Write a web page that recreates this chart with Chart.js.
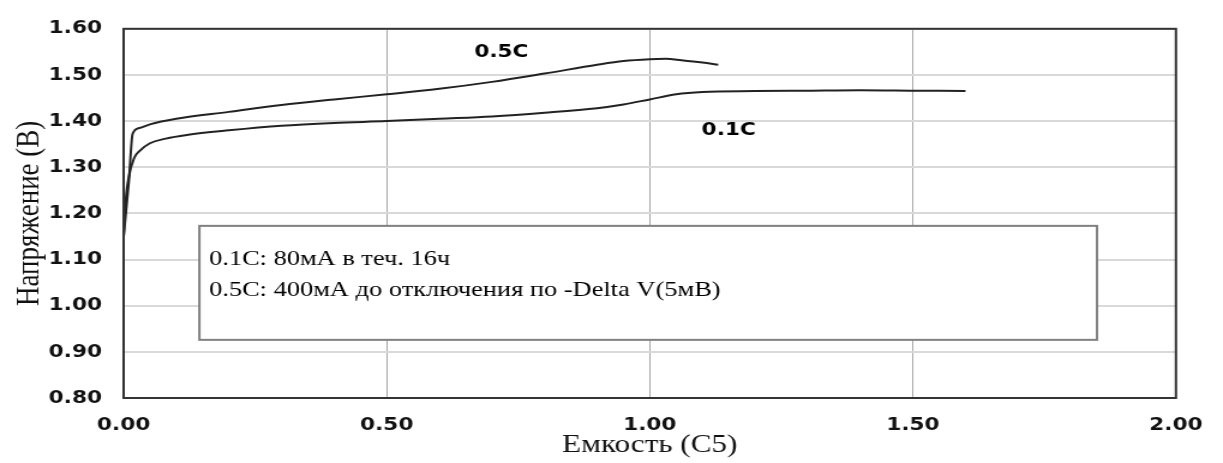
<!DOCTYPE html>
<html>
<head>
<meta charset="utf-8">
<script src="https://cdn.jsdelivr.net/npm/chart.js@4.4.1/dist/chart.umd.min.js"></script>
<style>
  html, body { margin: 0; padding: 0; background: #fff; overflow: hidden; }
  /* the reference is stretched sideways, so the canvas is drawn narrow and widened */
  #chart { display: block; width: 1223px !important; height: 463px !important; }
</style>
</head>
<body>
<canvas id="chart" width="1019" height="463"></canvas>
<script>
// Емкость (C5) / Напряжение (B)
const capacity01 = [0, 0.005, 0.01, 0.02, 0.03, 0.05, 0.08, 0.12, 0.2, 0.3, 0.4, 0.5, 0.6, 0.7, 0.8, 0.9, 0.95, 1.0, 1.05, 1.1, 1.2, 1.3, 1.4, 1.5, 1.6];
const voltage01  = [1.15, 1.24, 1.28, 1.32, 1.335, 1.352, 1.362, 1.37, 1.38, 1.39, 1.396, 1.40, 1.405, 1.41, 1.418, 1.428, 1.436, 1.447, 1.458, 1.463, 1.465, 1.466, 1.467, 1.466, 1.465];

const capacity05 = [0, 0.01, 0.017, 0.03, 0.05, 0.1, 0.2, 0.3, 0.4, 0.5, 0.6, 0.7, 0.8, 0.9, 0.95, 1.0, 1.03, 1.06, 1.1, 1.13];
const voltage05  = [1.15, 1.27, 1.372, 1.385, 1.393, 1.405, 1.42, 1.435, 1.447, 1.458, 1.47, 1.485, 1.503, 1.522, 1.53, 1.534, 1.535, 1.532, 1.527, 1.522];

const noteLines = ["0.1C: 80мА в теч. 16ч", "0.5C: 400мА до отключения по -Delta V(5мВ)"];

const toPoints = (xs, ys) => xs.map((x, i) => ({ x: x, y: ys[i] }));

// frame round the plot, the note box and the curve labels
const extras = {
    id: "extras",
    afterDraw(chart) {
        const ctx = chart.ctx;
        const a = chart.chartArea;
        const xs = chart.scales.x, ys = chart.scales.y;
        ctx.save();
        ctx.strokeStyle = "#333";
        ctx.lineWidth = 2;
        ctx.strokeRect(a.left, a.top, a.right - a.left, a.bottom - a.top);

        // note box
        const bx = xs.getPixelForValue(0.144), bx2 = xs.getPixelForValue(1.85);
        const by = ys.getPixelForValue(1.173), by2 = ys.getPixelForValue(0.926);
        ctx.fillStyle = "#fff";
        ctx.fillRect(bx, by, bx2 - bx, by2 - by);
        ctx.strokeStyle = "#808080";
        ctx.strokeRect(bx, by, bx2 - bx, by2 - by);
        ctx.fillStyle = "#000";
        ctx.font = "22px 'Liberation Serif', serif";
        ctx.textBaseline = "middle";
        ctx.fillText(noteLines[0], bx + 8, 259);
        ctx.fillText(noteLines[1], bx + 8, 290);

        // curve labels
        ctx.font = "bold 18px 'DejaVu Sans', sans-serif";
        ctx.textAlign = "center";
        ctx.fillText("0.5C", xs.getPixelForValue(0.718), ys.getPixelForValue(1.55));
        ctx.fillText("0.1C", xs.getPixelForValue(1.15), ys.getPixelForValue(1.38));
        ctx.restore();
    }
};

new Chart(document.getElementById("chart"), {
    type: "line",
    data: {
        datasets: [
            {
                label: "0.5C",
                data: toPoints(capacity05, voltage05),
                borderColor: "#222",
                borderWidth: 2,
                pointRadius: 0,
                cubicInterpolationMode: "monotone",
                fill: false
            },
            {
                label: "0.1C",
                data: toPoints(capacity01, voltage01),
                borderColor: "#222",
                borderWidth: 2,
                pointRadius: 0,
                cubicInterpolationMode: "monotone",
                fill: false
            }
        ]
    },
    options: {
        responsive: false,
        animation: false,
        devicePixelRatio: 1,
        layout: { padding: { top: 16, right: 36, left: 0, bottom: 0 } },
        plugins: { legend: { display: false }, tooltip: { enabled: false } },
        scales: {
            x: {
                type: "linear",
                min: 0, max: 2,
                afterFit: s => { s.height = 65; },
                grid: { color: "#a6a6a6", lineWidth: 1, drawTicks: false },
                border: { display: false },
                ticks: {
                    stepSize: 0.5,
                    padding: 17,
                    color: "#111",
                    font: { family: "'DejaVu Sans', sans-serif", weight: "bold", size: 18 },
                    callback: v => v.toFixed(2)
                },
                title: {
                    display: true,
                    text: "Емкость (C5)",
                    color: "#111",
                    padding: { top: 0, bottom: 2 },
                    font: { family: "'Liberation Serif', serif", size: 26 }
                }
            },
            y: {
                min: 0.8, max: 1.6,
                afterFit: s => { s.width = 103; },
                grid: { color: "#d9d9d9", lineWidth: 2, drawTicks: false },
                border: { display: false },
                ticks: {
                    stepSize: 0.1,
                    padding: 18,
                    color: "#111",
                    font: { family: "'DejaVu Sans', sans-serif", weight: "bold", size: 18 },
                    callback: v => v.toFixed(2)
                },
                title: {
                    display: true,
                    text: "Напряжение (B)",
                    color: "#111",
                    padding: { top: 9, bottom: 0 },
                    font: { family: "'Liberation Serif', serif", size: 27 }
                }
            }
        }
    },
    plugins: [extras]
});
</script>
</body>
</html>
